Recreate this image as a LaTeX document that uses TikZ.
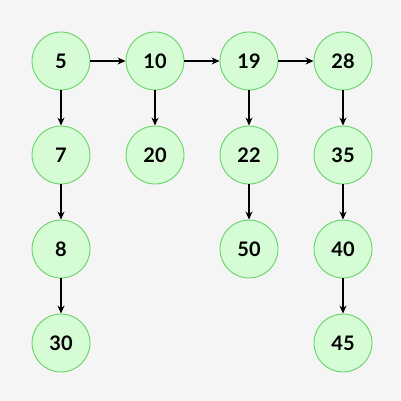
\documentclass[tikz,border=0pt]{standalone}
\usepackage{fontspec}
\setmainfont{Lato}
\usetikzlibrary{positioning}
\usetikzlibrary{arrows.meta}
\definecolor{bgcol}{HTML}{F5F5F5}
\definecolor{nodefill}{HTML}{D6FCD6}
\definecolor{nodeline}{HTML}{66D366}

\begin{document}
\begin{tikzpicture}[x=1pt, y=1pt,
		listnode/.style={circle, draw=nodeline, fill=nodefill, line width=0.9pt,
			minimum size=58pt, inner sep=0pt, font=\fontsize{20}{20}\selectfont\bfseries},
		link/.style={-{Stealth[length=8pt, width=7pt]}, line width=1.1pt},
		node distance=94pt and 94pt, on grid
	]
		
		\fill[bgcol] (0,0) rectangle (400,-401);
		\useasboundingbox (0,0) rectangle (400,-401);
		
		% top row
		\node[listnode] (n5) at (61,-61) {5};
		\node[listnode, right=of n5] (n10) {10};
		\node[listnode, right=of n10] (n19) {19};
		\node[listnode, right=of n19] (n28) {28};
		
		% columns
		\node[listnode, below=of n5] (n7) {7};
		\node[listnode, below=of n7] (n8) {8};
		\node[listnode, below=of n8] (n30) {30};
		
		\node[listnode, below=of n10] (n20) {20};
		
		\node[listnode, below=of n19] (n22) {22};
		\node[listnode, below=of n22] (n50) {50};
		
		\node[listnode, below=of n28] (n35) {35};
		\node[listnode, below=of n35] (n40) {40};
		\node[listnode, below=of n40] (n45) {45};
		
		% next pointers
		\draw[link] (n5) -- (n10);
		\draw[link] (n10) -- (n19);
		\draw[link] (n19) -- (n28);
		
		% down pointers
		\draw[link] (n5) -- (n7);
		\draw[link] (n7) -- (n8);
		\draw[link] (n8) -- (n30);
		\draw[link] (n10) -- (n20);
		\draw[link] (n19) -- (n22);
		\draw[link] (n22) -- (n50);
		\draw[link] (n28) -- (n35);
		\draw[link] (n35) -- (n40);
		\draw[link] (n40) -- (n45);
	\end{tikzpicture}
\end{document}
